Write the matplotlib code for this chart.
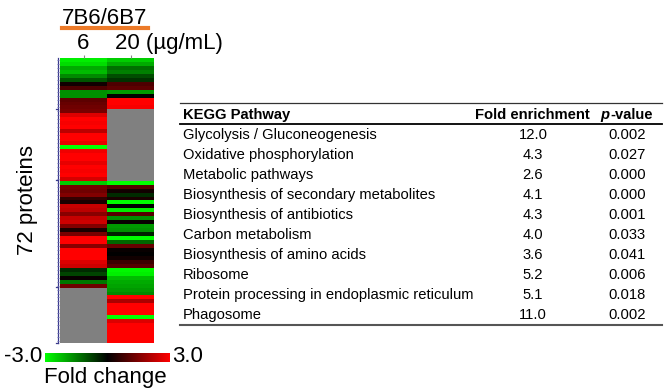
import numpy as np
import matplotlib
matplotlib.use("Agg")
import matplotlib.pyplot as plt
from matplotlib.colors import LinearSegmentedColormap

plt.rcParams['font.family'] = ['Liberation Sans', 'DejaVu Sans']

# fold change (log scale) for 72 proteins, NaN = not detected (grey)
nan = np.nan
fc_6 = [-2.8, -2.6, -2.0, -2.2, -1.6, -1.0, 0.2, 0.9, -1.7, -1.7,
        1.1, 1.2, 1.3, 1.4, 2.6, 3.0, 2.9, 3.0, 2.2, 3.0,
        3.0, 2.7, -3.0, 2.8, 3.0, 3.0, 2.7, 3.0, 2.9, 3.0,
        2.5, -2.4, 1.4, 1.3, 1.5, 0.6, 0.3, 2.3, 2.2, 1.6,
        2.3, 2.4, 1.5, 0.3, 1.4, 3.0, 3.0, 1.6, 3.0, 3.0,
        3.0, 2.6, 2.4, -0.5, -0.8, 0.1, -1.4, 1.3] + [nan] * 14
fc_20 = [-2.4, -2.0, -1.3, -1.5, -0.9, -0.6, 0.9, 1.1, -1.8, 0.0,
         3.0, 3.0, 2.9] + [nan] * 18 + [
         -3.0, 1.0, 0.2, -0.5, 0.3, -3.0, 0.0, -2.8, 1.0, -1.7,
         0.1, -1.8, -1.7, -0.4, -3.0, -1.2, 1.2, 0.1, 0.0, 0.2,
         0.7, 1.0, -2.9, -2.8, -2.2, -2.0, -1.9, -1.8, -1.6, 3.0,
         2.0, 3.0, 3.0, 3.0, -3.0, 2.6, 3.0, 3.0, 3.0, 3.0, 3.0]
cluster_sizes = [13, 18, 27, 14]
doses = ['6', '20']

pathways = ['Glycolysis / Gluconeogenesis', 'Oxidative phosphorylation',
            'Metabolic pathways', 'Biosynthesis of secondary metabolites',
            'Biosynthesis of antibiotics', 'Carbon metabolism',
            'Biosynthesis of amino acids', 'Ribosome',
            'Protein processing in endoplasmic reticulum', 'Phagosome']
fold_enrichment = [12.0, 4.3, 2.6, 4.1, 4.3, 4.0, 3.6, 5.2, 5.1, 11.0]
p_values = [0.002, 0.027, 0.000, 0.000, 0.001, 0.033, 0.041, 0.006, 0.018, 0.002]

W, H = 666, 392
fig = plt.figure(figsize=(W / 100, H / 100), dpi=100)

def box(x0, y0, x1, y1):
    # pixel box (top-left origin) -> figure fraction rect
    return [x0 / W, 1 - y1 / H, (x1 - x0) / W, (y1 - y0) / H]

cmap = LinearSegmentedColormap.from_list('gkr', ['#00ff00', '#000000', '#ff0000'])
cmap.set_bad('#808080')

# heatmap
ax = fig.add_axes(box(60, 58, 154, 343))
data = np.ma.masked_invalid(np.column_stack([fc_6, fc_20]))
ax.imshow(data, cmap=cmap, vmin=-3, vmax=3, aspect='auto', interpolation='nearest')
ax.set_xticks([0, 1])
ax.set_yticks([])
ax.tick_params(top=True, bottom=False, labeltop=False, labelbottom=False,
               length=2, color='#888888', width=0.8)
for s in ax.spines.values():
    s.set_visible(False)

# cluster brackets on the left
start = 0
for n in cluster_sizes:
    y0, y1 = start - 0.4, start + n - 0.6
    ax.plot([-0.54, -0.54], [y0, y1], color='#3a3a8c', lw=0.9, clip_on=False)
    ax.plot([-0.54] * n, np.arange(start, start + n), ls='none', marker='_',
            ms=2, color='#6a6ab0', mew=0.6, clip_on=False)
    ax.plot([-0.59, -0.54], [y1, y1], color='#3a3a8c', lw=0.9, clip_on=False)
    start += n
ax.set_xlim(-0.5, 1.5)
ax.set_ylim(len(fc_6) - 0.5, -0.5)

# header above heatmap
fs_big = 16
fig.text(105 / W, 1 - 19 / H, '7B6/6B7', ha='center', va='center', fontsize=fs_big)
fig.add_artist(plt.Line2D([62 / W, 148 / W], [1 - 28 / H, 1 - 28 / H],
                          color='#ec7a28', lw=3))
ax.text(0, -1.5, doses[0], ha='center', va='bottom', fontsize=fs_big, clip_on=False)
ax.text(0.68, -1.5, doses[1] + ' (\u00b5g/mL)', ha='left', va='bottom',
        fontsize=fs_big, clip_on=False)

fig.text(27 / W, 1 - 200 / H, '72 proteins', rotation=90, ha='center',
         va='center', fontsize=fs_big)

# colour scale
cax = fig.add_axes(box(45, 353, 170, 362))
grad = np.linspace(-3, 3, 256)[None, :]
cax.imshow(grad, cmap=cmap, vmin=-3, vmax=3, aspect='auto')
cax.set_xticks([])
cax.set_yticks([])
for s in cax.spines.values():
    s.set_visible(False)
fig.text(42 / W, 1 - 356 / H, '-3.0', ha='right', va='center', fontsize=fs_big)
fig.text(172 / W, 1 - 356 / H, '3.0', ha='left', va='center', fontsize=fs_big)
fig.text(105 / W, 1 - 378 / H, 'Fold change', ha='center', va='center', fontsize=fs_big)

# KEGG table
tx0, tx1 = 180, 662
tab = fig.add_axes(box(tx0, 102, tx1, 326))
tab.set_xlim(tx0, tx1)
tab.set_ylim(10.55, -0.65)
tab.axis('off')
fs = 10.6
tab.text(183, 0, 'KEGG Pathway', fontsize=fs, fontweight='bold', va='center')
tab.text(590, 0, 'Fold enrichment', fontsize=fs, fontweight='bold', va='center', ha='right')
p_txt = tab.text(600, 0, 'p', fontsize=fs, fontweight='bold', fontstyle='italic',
                 va='center', ha='left')
tab.annotate('-value', xy=(1, 0.5), xycoords=p_txt, fontsize=fs, fontweight='bold',
             va='center', ha='left', xytext=(1, 0), textcoords='offset points')
for i, (name, fe, p) in enumerate(zip(pathways, fold_enrichment, p_values), start=1):
    tab.text(183, i, name, fontsize=fs, va='center')
    tab.text(533, i, f'{fe:.1f}', fontsize=fs, va='center', ha='center')
    tab.text(627, i, f'{p:.3f}', fontsize=fs, va='center', ha='center')
tab.plot([tx0, tx1], [-0.62, -0.62], color='#333333', lw=0.9, clip_on=False)
tab.plot([tx0, tx1], [0.45, 0.45], color='#000000', lw=1.3, clip_on=False)
tab.plot([tx0, tx1], [10.52, 10.52], color='#555555', lw=1.5, clip_on=False)

fig.savefig('out.png', dpi=100)
